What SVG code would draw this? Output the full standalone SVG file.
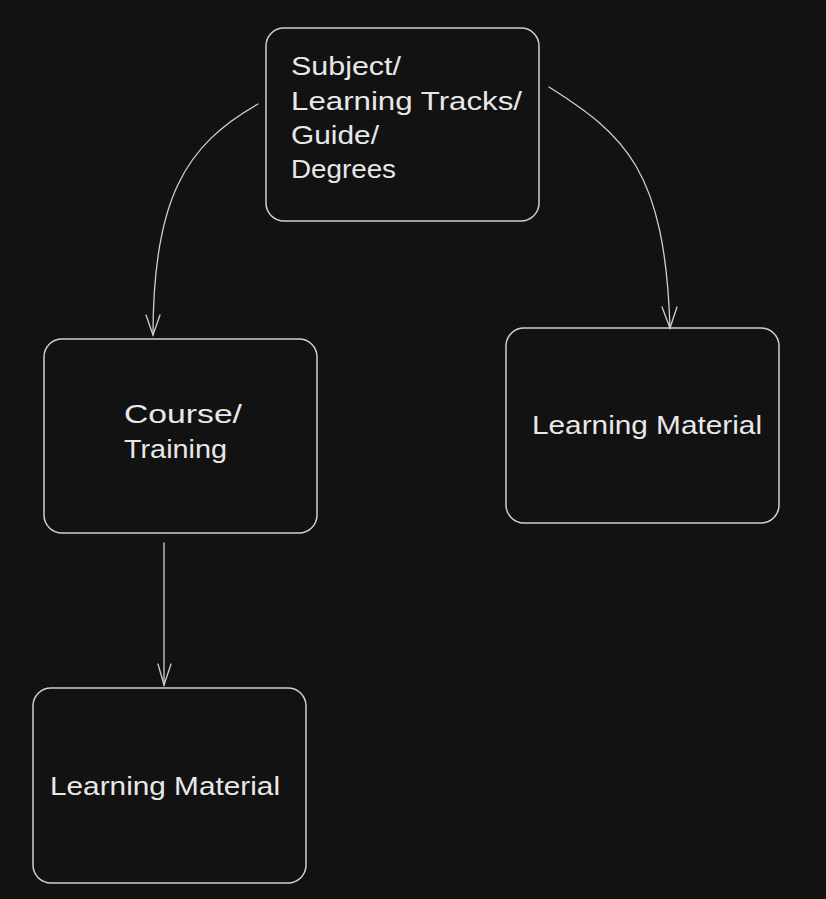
<svg xmlns="http://www.w3.org/2000/svg" width="826" height="899" viewBox="0 0 826 899">
<style>
.box{fill:none;stroke:#cfcfcf;stroke-width:1.5}
.lbl{fill:#e8e8e8;font-family:"Liberation Sans",Arial,sans-serif;font-size:25px}
.conn{fill:none;stroke:#cfcfcf;stroke-width:1.3;stroke-linecap:round}
</style>
<rect width="826" height="899" fill="#121212"/>
<g id="conns">
<path class="conn" d="M258,104 C185,145 153,200 153,335"/>
<path class="conn" d="M146,315 L153,335 L160,315"/>
<path class="conn" d="M549,87 C625,135 665,170 670,328"/>
<path class="conn" d="M662,307 L670,328 L677,307"/>
<path class="conn" d="M164,543 L164,685"/>
<path class="conn" d="M158,664 L164,685 L171,664"/>
</g>
<g id="node-subject">
<rect class="box" x="266" y="28" width="273" height="193" rx="18"/>
<text class="lbl" x="291" y="75" textLength="110" lengthAdjust="spacingAndGlyphs">Subject/</text>
<text class="lbl" x="291" y="110" textLength="231" lengthAdjust="spacingAndGlyphs">Learning Tracks/</text>
<text class="lbl" x="291" y="144" textLength="88" lengthAdjust="spacingAndGlyphs">Guide/</text>
<text class="lbl" x="291" y="178" textLength="105" lengthAdjust="spacingAndGlyphs">Degrees</text>
</g>
<g id="node-course">
<rect class="box" x="44" y="339" width="273" height="194" rx="18"/>
<text class="lbl" x="124" y="423" textLength="118" lengthAdjust="spacingAndGlyphs">Course/</text>
<text class="lbl" x="124" y="458" textLength="103" lengthAdjust="spacingAndGlyphs">Training</text>
</g>
<g id="node-material-right">
<rect class="box" x="506" y="328" width="273" height="195" rx="18"/>
<text class="lbl" x="532" y="434" textLength="230" lengthAdjust="spacingAndGlyphs">Learning Material</text>
</g>
<g id="node-material-bottom">
<rect class="box" x="33" y="688" width="273" height="195" rx="18"/>
<text class="lbl" x="50" y="795" textLength="230" lengthAdjust="spacingAndGlyphs">Learning Material</text>
</g>
</svg>
